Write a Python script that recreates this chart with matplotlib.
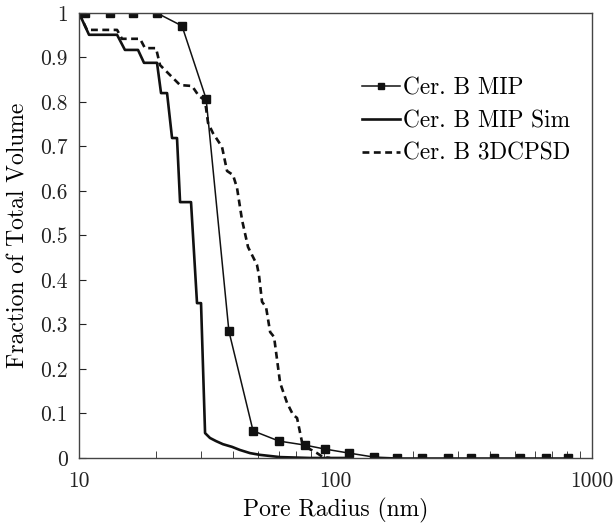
import numpy as np
import matplotlib
matplotlib.use("Agg")
import matplotlib.pyplot as plt
from matplotlib.ticker import FixedLocator, FixedFormatter, NullFormatter

plt.rcParams['font.family'] = 'serif'
plt.rcParams['font.serif'] = ['cmr10', 'DejaVu Serif']
plt.rcParams['axes.formatter.use_mathtext'] = True
plt.rcParams['mathtext.fontset'] = 'cm'

# Cer. B MIP (measured, square markers)
mip_r = [10.55, 13.2, 16.2, 20.1, 25.2, 31.3, 38.4, 47.7, 60.2, 76.0, 91.0,
         112.9, 141.3, 173.7, 217.4, 274.6, 337.6, 414.8, 523.7, 661.8, 806.0]
mip_f = [1.0, 1.0, 1.0, 1.0, 0.971, 0.807, 0.285, 0.061, 0.038, 0.029, 0.020,
         0.011, 0.002, 0.0, 0.0, 0.0, 0.0, 0.0, 0.0, 0.0, 0.0]

# Cer. B MIP Sim
sim_r = [10.0, 10.94, 14.07, 15.1, 16.98, 17.92, 20.14, 20.88, 22.04, 23.05,
         24.1, 24.77, 27.33, 28.84, 29.9, 31.0, 32.4, 34.2, 36.4, 39.5, 42.4,
         46.4, 50.8, 60.8, 79.5, 114.0]
sim_f = [1.0, 0.951, 0.951, 0.917, 0.917, 0.888, 0.888, 0.820, 0.820, 0.719,
         0.719, 0.575, 0.575, 0.348, 0.348, 0.056, 0.045, 0.038, 0.031, 0.025,
         0.018, 0.011, 0.007, 0.002, 0.0, 0.0]

# Cer. B 3DCPSD
cpsd_r = [10.0, 10.74, 14.07, 14.71, 17.29, 18.08, 19.96, 20.69, 24.77, 27.57,
          29.37, 30.98, 31.84, 33.28, 36.10, 37.76, 39.84, 41.3, 43.2, 45.6,
          49.4, 50.3, 51.7, 53.6, 55.6, 57.6, 60.8, 64.7, 68.3, 70.8, 74.0,
          78.2, 84.7, 89.3, 95.3]
cpsd_f = [1.0, 0.962, 0.962, 0.942, 0.942, 0.921, 0.921, 0.883, 0.838, 0.836,
          0.813, 0.804, 0.753, 0.730, 0.699, 0.645, 0.636, 0.607, 0.535, 0.474,
          0.434, 0.411, 0.351, 0.339, 0.283, 0.272, 0.169, 0.124, 0.097, 0.090,
          0.036, 0.022, 0.011, 0.002, 0.0]

yticks = [0, 0.1, 0.2, 0.3, 0.4, 0.5, 0.6, 0.7, 0.8, 0.9, 1.0]
ylabels = ['0', '0.1', '0.2', '0.3', '0.4', '0.5', '0.6', '0.7', '0.8', '0.9', '1']
xticks = [10, 100, 1000]
xlabels = ['10', '100', '1000']

fig = plt.figure(figsize=(6.14, 5.28), dpi=100)
ax = fig.add_axes([0.1287, 0.1326, 0.8355, 0.8428])

ax.plot(mip_r, mip_f, color='#111111', lw=1.1, marker='s', markersize=5.5,
        label='Cer. B MIP')
ax.plot(sim_r, sim_f, color='#111111', lw=1.9, label='Cer. B MIP Sim')
ax.plot(cpsd_r, cpsd_f, color='#111111', lw=1.9, linestyle=(0, (2.6, 1.7)),
        label='Cer. B 3DCPSD')

ax.set_xscale('log')
ax.set_xlim(10, 1000)
ax.set_ylim(0, 1)
ax.xaxis.set_major_locator(FixedLocator(xticks))
ax.xaxis.set_major_formatter(FixedFormatter(xlabels))
ax.xaxis.set_minor_formatter(NullFormatter())
ax.yaxis.set_major_locator(FixedLocator(yticks))
ax.yaxis.set_major_formatter(FixedFormatter(ylabels))

ax.tick_params(axis='both', which='both', direction='in', top=False,
               right=False, labelsize=15.5, colors='#222222')
ax.tick_params(axis='x', which='major', length=0, pad=10)
ax.tick_params(axis='x', which='minor', length=5)
ax.tick_params(axis='y', which='major', length=5, pad=8)
for s in ax.spines.values():
    s.set_color('#444444')
    s.set_linewidth(1.0)

ax.set_xlabel('Pore Radius (nm)', fontsize=17, labelpad=5)
ax.set_ylabel('Fraction of Total Volume', fontsize=17, labelpad=8)

leg = ax.legend(loc='upper left', bbox_to_anchor=(0.552, 0.855), frameon=False,
                fontsize=16.8, handlelength=1.62, handletextpad=0.13,
                labelspacing=0.45, borderaxespad=0, borderpad=0, markerscale=0.7)

fig.savefig('out.png', dpi=100)
